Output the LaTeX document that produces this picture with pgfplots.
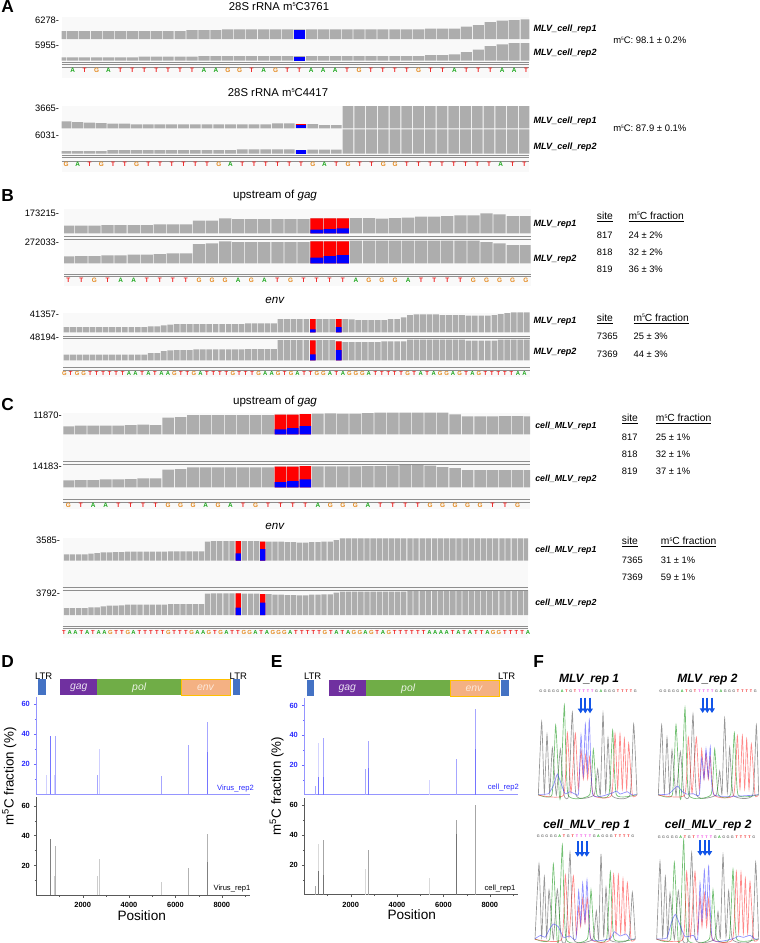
\documentclass[border=0pt]{standalone}
\usepackage{fontspec}
\setmainfont{Liberation Sans}
\usepackage{graphicx}
\usepackage{pgfplots}
\usepackage{pgfplotstable}
\pgfplotsset{compat=1.18}
\usetikzlibrary{arrows.meta}

\definecolor{trk}{HTML}{ADADAD}
\definecolor{trkbg}{HTML}{F9F9F9}
\definecolor{trkln}{HTML}{8E8E8E}
\definecolor{colA}{HTML}{1FA81F}
\definecolor{colT}{HTML}{F02020}
\definecolor{colG}{HTML}{E58A1F}
\definecolor{colg}{HTML}{777777}
\definecolor{colY}{HTML}{F040E0}
\definecolor{ltr}{HTML}{4472C4}
\definecolor{gag}{HTML}{7030A0}
\definecolor{pol}{HTML}{70AD47}
\definecolor{env}{HTML}{F4B183}
\definecolor{gold}{HTML}{FFC000}
\definecolor{axblue}{HTML}{2A2AFF}
\definecolor{arrowblue}{HTML}{1255E8}

\newcommand\fs[1]{\fontsize{#1}{#1}\selectfont}
\newcommand\Tbl[2]{\pgfplotstableread[row sep=\\,header=false]{#2}#1}

% coverage heights, in px of the track (track top = the number at its left)
\Tbl\tAa{8\\8\\8\\8\\8\\8\\8\\8\\8\\8\\8\\9\\9\\9\\9.7\\9.7\\9.7\\9.7\\9.7\\9.7\\9.7\\9.7\\9.7\\9.7\\9.7\\9.7\\9.7\\9.7\\9.7\\9.7\\9.7\\10.5\\10.5\\10.5\\12.3\\14\\17\\18.3\\19\\19.7\\}
\Tbl\tAb{3.3\\3.3\\3.3\\3.3\\3.3\\3.3\\3.3\\4\\4\\4\\4\\4\\4.7\\4.7\\4.7\\4.7\\4.7\\4.7\\4.7\\4.7\\4.7\\4.7\\4.7\\4.7\\4.7\\4.7\\4.7\\4.7\\4.7\\4.7\\4.7\\5.7\\5.7\\6.3\\8.5\\11\\14.7\\16.3\\17.7\\17.7\\}
\Tbl\tAc{7\\6.3\\5.7\\5.3\\4.7\\4.7\\4\\4\\4\\4\\4\\4\\4\\4\\4\\4\\4\\4\\5\\5\\4.3\\4.3\\3.3\\3.3\\22.3\\22.3\\22.3\\22.3\\22.3\\22.3\\22.3\\22.3\\22.3\\22.3\\22.3\\22.3\\22.3\\22.3\\22.3\\22.3\\}
\Tbl\tAd{2.7\\2.7\\2.7\\2.7\\3.7\\3.7\\3.7\\3.7\\3.7\\3.7\\3.7\\3.7\\3.7\\3.7\\3.7\\4.3\\4.3\\4.3\\4.3\\4.3\\3.3\\4\\4\\4\\24.3\\24.3\\24.3\\24.3\\24.3\\24.3\\24.3\\24.3\\24.3\\24.3\\24.3\\24.3\\24.3\\24.3\\24.3\\24.3\\}
\Tbl\tBa{7.7\\7.7\\7.7\\8.3\\8.3\\8.3\\8.3\\9\\9\\9\\12.7\\12.7\\15\\14.3\\14.3\\14.3\\14.3\\14.3\\14.3\\15\\15\\15\\15.3\\15.3\\14.7\\15.3\\15.7\\16.7\\16.7\\17.3\\18\\18\\20\\19\\17.3\\17.3\\}
\Tbl\tBb{7\\7.3\\7.3\\8\\8\\8.7\\8.7\\9.3\\10\\10\\19.3\\20\\22\\21.3\\21.3\\21.3\\21.3\\21.3\\21.3\\22\\22\\22\\22.7\\22.7\\22.7\\22.7\\22.7\\22.7\\22.7\\22.7\\22.7\\22.7\\21.3\\20\\18.3\\18.3\\}
\Tbl\tBc{5.3\\5.3\\5.3\\5.3\\5.3\\5.3\\5.3\\5.3\\5.3\\5.3\\5.3\\5.3\\5.3\\6\\6\\7\\7.7\\8.3\\8.3\\8.3\\8.3\\8.3\\8.3\\8.3\\8.3\\8.3\\8.3\\8.3\\9\\9\\9\\9\\9\\13.3\\13.3\\13.3\\13.3\\13.3\\13.3\\13.3\\13.3\\13.3\\13.3\\13.3\\13\\12.3\\12.3\\12.3\\12.3\\12.3\\13.3\\13.3\\15\\17.3\\18\\18\\18\\18\\17.3\\17.3\\17.3\\17.3\\16.7\\16.7\\16.7\\16.7\\17.3\\18.3\\19.3\\20\\20\\20\\}
\Tbl\tBd{5.7\\5.7\\5.7\\5.7\\5.7\\5.7\\5.7\\5.7\\5.7\\5.7\\5.7\\5.7\\5.7\\7.3\\7.3\\9.3\\10\\10.3\\10.3\\10.3\\11\\11\\11\\11\\11\\11\\11\\11\\11.3\\11.3\\11.3\\11.3\\11.3\\20.3\\20.3\\20.3\\20.3\\20.3\\20\\20.3\\20.3\\20.3\\19\\18.3\\18.3\\18.3\\18.3\\18.3\\18.3\\19\\19\\19\\19\\20.7\\20.7\\20.7\\20.7\\20.7\\20.7\\20.7\\20.7\\20.7\\19.7\\19.7\\19.7\\19.7\\19.7\\20.7\\20.7\\20.7\\20.7\\20.7\\}
\Tbl\tCa{8\\8.7\\8.7\\8.7\\8.7\\9.3\\9.7\\9.3\\16.7\\17.3\\19.3\\19.3\\19.3\\19.3\\19.3\\19.3\\19.3\\19.7\\19.7\\20.3\\20.7\\21\\20.7\\20.7\\21.3\\21.7\\21.7\\21.7\\21.7\\21.7\\21.7\\20\\18\\18\\18\\18.3\\18.3\\18\\}
\Tbl\tCb{7\\7.3\\7.3\\8\\8\\8.3\\9\\9\\17.7\\18.3\\20\\20\\20\\20\\20\\20\\20\\20.7\\20.7\\21.3\\21\\21\\21\\21\\21.3\\21.3\\21.7\\22.3\\22.3\\21.7\\20.3\\19.3\\17.3\\17.3\\17.3\\17.3\\17.3\\17.3\\}
\Tbl\tCc{6.3\\6.3\\6.3\\6.3\\7\\7.7\\8.3\\8.3\\8.7\\8.7\\9\\9\\9\\9\\9\\9\\9\\9.3\\9.3\\9.3\\9.3\\9.3\\9.3\\19\\19.7\\19.7\\19.7\\19.7\\19.7\\19.7\\19.7\\19.7\\19\\19\\19\\19\\18.7\\18.7\\18\\18\\18.7\\18.7\\19\\19\\20.7\\22.4\\22.4\\22.4\\22.4\\22.4\\22.4\\22.4\\22.4\\22.4\\22.4\\22.4\\22.4\\22.4\\22.4\\22.4\\22.4\\22.4\\22.4\\22.4\\22.4\\22.4\\22.4\\22.4\\22.4\\22.4\\22.4\\22.4\\22.4\\22.4\\22.4\\22.4\\}
\Tbl\tCd{7\\7\\7\\7\\7.7\\7.7\\8.7\\9.3\\9.3\\9.7\\10.3\\10.3\\10.3\\10.3\\10.3\\10.3\\10.3\\11\\11\\11\\11\\11\\11\\21.3\\21.7\\21.7\\21.7\\21.7\\21.7\\21.3\\21.3\\21.3\\21\\21\\20.3\\20.3\\20\\20\\19.7\\19.7\\20.3\\20.3\\20.7\\20.7\\22.3\\23.3\\23.3\\23.3\\23.3\\23.3\\23.3\\23.3\\23.3\\23.3\\23.3\\23.3\\24.7\\24.7\\24.7\\24.7\\24.7\\24.7\\24.7\\24.7\\24.7\\24.7\\24.7\\24.7\\24.7\\24.7\\24.7\\24.7\\24.7\\24.7\\24.7\\24.7\\}

% x1 x2 base height xmin xmax table red blue  (all in px of the 760x943 figure)
\newcommand\track[9]{%
  \pgfmathsetlengthmacro\trw{(#2-#1)*.75pt}%
  \pgfmathsetlengthmacro\trh{#4*.75pt}%
  \pgfmathsetmacro\trb{1-.8*(#6-#5)/(#2-#1)}%
  \begin{axis}[at={(#1*.75pt,-#3*.75pt)},anchor=south west,scale only axis,
    width=\trw,height=\trh,xmin=#5,xmax=#6,ymin=0,ymax=#4,hide axis,
    ybar,bar shift=0pt,bar width=\trb]
    \addplot[fill=trk,draw=none] table[x expr=\coordindex,y index=0] {#7};
    \addplot[fill=red,draw=none] coordinates {#8};
    \addplot[fill=blue,draw=none] coordinates {#9};
  \end{axis}}

\makeatletter
\newcommand\seq[5]{\def\sx{#1}\@tfor\ch:=#5\do{%
  \edef\cn{col\ch}\edef\letr{\if Y\ch T\else\if g\ch G\else\ch\fi\fi}%
  \node[font=\fs{#4}\bfseries,inner sep=0,text=\cn] at (\sx,#3) {\letr};%
  \pgfmathsetmacro\sx{\sx+#2}}}
\makeatother

\newcommand\hl[3]{\draw[trkln,line width=.6pt] (#1,#3)--(#2,#3);}
\newcommand\lbW[4]{\node[anchor=west,inner sep=0,font=\fs{#1}] at (#2,#3) {#4};}
\newcommand\lbE[4]{\node[anchor=east,inner sep=0,font=\fs{#1}] at (#2,#3) {#4};}
\newcommand\lbC[4]{\node[inner sep=0,font=\fs{#1}] at (#2,#3) {#4};}
\newcommand\mfive{m\textsuperscript{5}C}
\newcommand\msm{m\raisebox{.62ex}{\scalebox{.5}{5}}C}
\newcommand\rp[4]{\node[anchor=west,inner sep=0,font=\fs{#1}\bfseries\itshape] at (#2,#3) {#4};}

\pgfplotsset{
  stem/.style={scale only axis,width=160.4pt,xmin=0,xmax=9220,ymin=0,
    anchor=south west,axis x line*=bottom,axis y line*=left,tick align=outside,
    major tick length=1.8pt,minor tick length=1pt,
    ytick={20,40,60},minor ytick={10,30,50},
    /pgf/number format/assume math mode=true,/pgf/number format/1000 sep={},
    tick label style={font=\fs{5.6}\bfseries},
    yticklabel style={xshift=.5pt}},
  bluestem/.style={stem,xtick=\empty,axis line style={color=axblue!50},
    ytick style={color=axblue!70},yticklabel style={text=axblue}},
  graystem/.style={stem,xtick={2000,4000,6000,8000},minor xtick={1000,3000,5000,7000,9000},
    axis line style={color=black!65},tick style={color=black!65}},
  chrom/.style={scale only axis,anchor=south west,hide axis,ymin=0,ymax=300,clip=false,height=75pt},
  tr/.style={smooth,tension=.28,line width=.5pt,opacity=.55,no markers},
}

\begin{document}
\begin{tikzpicture}
\path[use as bounding box] (0,0) rectangle (570pt,-707.25pt);

% backgrounds
\begin{scope}[x=.75pt,y=-.75pt]
\fill[trkbg] (61.5,17) rectangle (529.3,77.5);
\fill[trkbg] (61.5,106) rectangle (529.3,171.7);
\fill[trkbg] (64,209.3) rectangle (530.7,286);
\fill[trkbg] (63.3,312.7) rectangle (530,376.7);
\fill[trkbg] (63.3,412.7) rectangle (530,509.3);
\fill[trkbg] (62.7,538.3) rectangle (528,638.3);
\end{scope}

% panels A-C
\track{61.5}{529.3}{39}{22}{.06}{39.27}{\tAa}{(20,9.5)}{(20,9.5)}
\track{61.5}{529.3}{60.7}{19.7}{.06}{39.27}{\tAb}{(20,4)}{(20,4)}
\track{61.5}{529.3}{128.3}{22.3}{-.38}{39.43}{\tAc}{(20,4.7)}{(20,3)}
\track{61.5}{529.3}{153.7}{24.3}{-.38}{39.43}{\tAd}{(20,3.3)}{(20,3.3)}
\track{64}{530.7}{233.3}{24}{-.33}{35.38}{\tBa}{(19,15)(20,15)(21,15)}{(19,3.7)(20,4.3)(21,5)}
\track{64}{530.7}{263.3}{23.3}{-.33}{35.38}{\tBb}{(19,22)(20,22)(21,22)}{(19,5.7)(20,7.3)(21,8.3)}
\track{63.3}{530}{332.3}{20}{-.5}{71.5}{\tBc}{(38,13.3)(42,13.3)}{(38,3)(42,5.3)}
\track{63.3}{530}{360.3}{21.6}{-.5}{71.5}{\tBd}{(38,20)(42,19)}{(38,6)(42,10.3)}
\track{63.3}{530}{434.3}{21.7}{-.4}{37}{\tCa}{(17,19.7)(18,19.7)(19,20.3)}{(17,5)(18,6.3)(19,8.3)}
\track{63.3}{530}{487.3}{22.6}{-.4}{37}{\tCb}{(17,20.7)(18,20.7)(19,21.3)}{(17,5.3)(18,6.3)(19,8)}
\track{62.7}{528}{560.7}{22.4}{-.61}{75.25}{\tCc}{(28,19.7)(32,19)}{(28,7.3)(32,11.7)}
\track{62.7}{528}{615}{24.7}{-.61}{75.25}{\tCd}{(28,21.7)(32,21)}{(28,7.3)(32,12.3)}

% panels D and E
\begin{axis}[bluestem,at={(27.2pt,-595.8pt)},height=73.3pt,ymax=64.8]
\addplot[ycomb,color=axblue!22,line width=.7pt,no markers] coordinates {(446,13)(780,13)(2733,30)};
\addplot[ycomb,color=axblue!42,line width=.5pt,no markers] coordinates {(820,39)(2647,13)(5393,12)(6558,33)(7369,48)};
\addplot[ycomb,color=axblue!65,line width=.5pt,no markers] coordinates {(600,39)(7365,28)};
\end{axis}
\begin{axis}[graystem,at={(27.2pt,-671.5pt)},height=73.5pt,ymax=65.6]
\addplot[ycomb,color=black!20,line width=.7pt,no markers] coordinates {(780,13)(2647,13)(2733,24)(5393,9)};
\addplot[ycomb,color=black!30,line width=.5pt,no markers] coordinates {(820,33)(6558,18)(7369,41)};
\addplot[ycomb,color=black!50,line width=.5pt,no markers] coordinates {(600,38)(7365,22)};
\end{axis}
\begin{axis}[bluestem,at={(228.2pt,-596pt)},height=72.8pt,ymax=65.4]
\addplot[ycomb,color=axblue!20,line width=.7pt,no markers] coordinates {(604,35)(5380,10)};
\addplot[ycomb,color=axblue!42,line width=.5pt,no markers] coordinates {(459,6)(805,38)(2620,17)(2750,36)(6545,24)(7367,58)};
\addplot[ycomb,color=axblue!65,line width=.5pt,no markers] coordinates {(604,12)(805,12)(2750,18)(7365,31)};
\end{axis}
\begin{axis}[graystem,at={(228.2pt,-671pt)},height=72.5pt,ymax=64.9]
\addplot[ycomb,color=black!15,line width=.7pt,no markers] coordinates {(604,34)(2620,17)(5380,11)};
\addplot[ycomb,color=black!35,line width=.5pt,no markers] coordinates {(459,6)(805,37)(2750,30)(6545,50)(7367,60)};
\addplot[ycomb,color=black!55,line width=.5pt,no markers] coordinates {(604,16)(805,13)(6545,41)};
\end{axis}

% panel F traces (x and height in 1/3 px)
\begin{axis}[chrom,at={(402.5pt,-596.8pt)},xmin=50,xmax=355,width=76.25pt]
\addplot[tr,color=black!75] coordinates {(55,2)(65,222)(73,8)(81,184)(89,8)(97,144)(109,2)(121,140)(132,2)(146,2)(157,250)(168,2)(222,2)(233,80)(241,2)(249,247)(257,10)(264,174)(275,2)(330,2)(341,215)(351,2)};
\addplot[tr,color=green!55!black] coordinates {(55,3)(96,3)(107,212)(118,3)(122,3)(133,272)(144,3)(209,3)(220,139)(231,3)(267,3)(278,197)(289,3)(350,3)};
\addplot[tr,color=red!85] coordinates {(55,2)(131,2)(142,189)(153,8)(166,187)(175,20)(183,137)(190,50)(197,122)(203,50)(209,117)(220,2)(275,2)(285,187)(293,20)(300,185)(307,20)(313,172)(320,20)(326,157)(337,2)(350,2)};
\addplot[tr,color=blue!80] coordinates {(55,4)(85,6)(100,30)(112,65)(122,40)(135,6)(150,12)(170,3)(176,10)(183,182)(190,60)(196,215)(202,70)(208,229)(218,4)(270,6)(290,14)(300,5)(322,12)(335,3)(350,3)};
\end{axis}
\begin{axis}[chrom,at={(492.5pt,-596.8pt)},xmin=410,xmax=720,width=77.5pt]
\addplot[tr,color=black!75] coordinates {(415,2)(425,212)(433,8)(441,175)(449,8)(456,137)(468,2)(481,132)(492,2)(508,2)(519,245)(530,2)(588,2)(599,74)(606,5)(614,232)(622,10)(629,145)(640,2)(698,2)(709,212)(716,2)};
\addplot[tr,color=green!55!black] coordinates {(415,3)(457,3)(468,213)(479,3)(484,3)(495,264)(506,3)(573,3)(584,140)(595,3)(632,3)(643,189)(654,3)(715,3)};
\addplot[tr,color=red!85] coordinates {(415,2)(494,2)(505,175)(516,8)(529,175)(538,20)(545,139)(552,50)(558,127)(565,50)(571,117)(582,2)(641,2)(652,180)(660,20)(667,180)(674,20)(680,170)(687,20)(694,155)(705,2)(715,2)};
\addplot[tr,color=blue!80] coordinates {(415,3)(445,5)(460,18)(473,29)(485,14)(500,5)(520,6)(538,3)(545,114)(552,50)(558,141)(565,55)(571,147)(582,3)(715,3)};
\end{axis}
\begin{axis}[chrom,at={(400pt,-705pt)},xmin=40,xmax=350,width=77.5pt]
\addplot[tr,color=black!75] coordinates {(45,2)(57,228)(65,8)(73,190)(80,8)(87,150)(100,2)(112,152)(124,2)(138,2)(150,263)(161,2)(218,2)(229,87)(236,2)(243,258)(251,10)(258,158)(269,2)(326,2)(337,143)(346,2)};
\addplot[tr,color=green!55!black] coordinates {(45,3)(89,3)(100,228)(111,3)(116,3)(127,285)(138,3)(202,3)(213,150)(224,3)(260,3)(271,205)(282,3)(345,3)};
\addplot[tr,color=red!85] coordinates {(45,2)(125,2)(136,195)(147,8)(160,192)(169,15)(176,100)(182,40)(188,125)(195,50)(202,125)(213,2)(270,2)(281,197)(288,20)(295,195)(302,20)(309,183)(315,20)(322,172)(333,2)(345,2)};
\addplot[tr,color=blue!80] coordinates {(45,4)(62,14)(75,8)(90,35)(100,48)(115,40)(130,8)(150,12)(168,3)(176,148)(182,50)(188,170)(195,55)(201,180)(212,4)(270,4)(283,25)(300,12)(318,18)(330,3)(345,3)};
\end{axis}
\begin{axis}[chrom,at={(491.25pt,-705pt)},xmin=405,xmax=720,width=78.75pt]
\addplot[tr,color=black!75] coordinates {(410,2)(420,235)(428,8)(436,190)(443,8)(450,140)(463,2)(475,148)(487,2)(504,2)(515,262)(526,2)(583,2)(594,85)(601,5)(609,255)(618,10)(626,148)(637,2)(696,2)(707,233)(716,2)};
\addplot[tr,color=green!55!black] coordinates {(410,3)(452,3)(463,233)(474,3)(480,3)(491,300)(502,3)(568,3)(579,150)(590,3)(628,3)(639,212)(650,3)(715,3)};
\addplot[tr,color=red!85] coordinates {(410,2)(489,2)(500,205)(511,8)(525,205)(533,20)(540,130)(546,40)(553,140)(560,40)(566,125)(577,2)(638,2)(649,205)(656,20)(663,202)(670,20)(676,185)(683,20)(690,175)(701,2)(715,2)};
\addplot[tr,color=blue!80] coordinates {(410,3)(440,6)(455,55)(466,77)(478,50)(495,10)(520,14)(533,3)(540,172)(546,60)(553,210)(560,70)(566,222)(577,3)(640,4)(655,12)(670,8)(690,14)(705,3)(715,3)};
\end{axis}

\begin{scope}[x=.75pt,y=-.75pt]
% panel letters
\lbW{13}{1}{7}{\bfseries A}
\lbW{13}{1}{196}{\bfseries B}
\lbW{13}{1}{404.7}{\bfseries C}
\lbW{13}{1}{661.7}{\bfseries D}
\lbW{13}{270.7}{661.7}{\bfseries E}
\lbW{13}{533}{661.7}{\bfseries F}

% panel A
\lbC{8.5}{279}{6.5}{28S rRNA \msm3761}
\lbC{8.5}{278}{92.5}{28S rRNA \msm4417}
\lbE{7}{59.3}{20.7}{6278-}
\lbE{7}{59.3}{45}{5955-}
\lbE{7}{59.3}{108.7}{3665-}
\lbE{7}{59.3}{135.7}{6031-}
\hl{61.5}{529.3}{62}\hl{61.5}{529.3}{64}\hl{61.5}{529.3}{67.7}
\hl{61.5}{529.3}{155}\hl{61.5}{529.3}{157}\hl{61.5}{529.3}{161.5}
\seq{72.7}{11.93}{70.7}{4.8}{ATGATTTTTTTAAGGTAGTTAAATGTTTTGTTATTTAAT}
\seq{66}{11.75}{164.7}{4.8}{GATGTTGTTTTTTGATTTTTTGATGTTGGTTTTTTTTATT}
\rp{6.8}{533.3}{29.3}{MLV\_cell\_rep1}
\rp{6.8}{533.3}{53.3}{MLV\_cell\_rep2}
\rp{6.8}{533.3}{120.7}{MLV\_cell\_rep1}
\rp{6.8}{533.3}{147.3}{MLV\_cell\_rep2}
\lbW{7.1}{613}{40}{\msm: 98.1 ± 0.2\%}
\lbW{7.1}{613}{128}{\msm: 87.9 ± 0.1\%}

% panel B
\lbC{8.7}{275}{195.3}{upstream of \textit{gag}}
\lbC{8.7}{275}{300.7}{\textit{env}}
\lbE{7}{59.3}{213}{173215-}
\lbE{7}{59.3}{242.3}{272033-}
\lbE{7}{59.3}{314}{41357-}
\lbE{7}{59.3}{337.7}{48194-}
\hl{64}{530.7}{236}\hl{64}{530.7}{239.3}\hl{64}{530.7}{274.3}\hl{64}{530.7}{276.7}
\hl{63.3}{530}{336}\hl{63.3}{530}{338}\hl{63.3}{530}{367.3}\hl{63.3}{530}{370.7}
\seq{68.3}{13.07}{280.3}{4.8}{TTGTAATTTTGGGAGATGTTTTAGGGATTTTGGGGG}
\seq{64.3}{6.48}{373.3}{4.4}{GTGGTTTTTTAATATAAGTTGATTTTGTTTGAAGTGATTGGATAGGGATTTTTGTATAGGAGTAGTTTTTAA}
\rp{6.8}{533.3}{224}{MLV\_rep1}
\rp{6.8}{533.3}{259}{MLV\_rep2}
\rp{6.8}{533.3}{321}{MLV\_rep1}
\rp{6.8}{533.3}{352.3}{MLV\_rep2}
\lbW{7.7}{596.7}{217}{\underline{site}}
\lbW{7.7}{628.3}{217}{\underline{\msm{} fraction}}
\lbW{7}{596.7}{235}{817}\lbW{7}{628.3}{235}{24 ± 2\%}
\lbW{7}{596.7}{252.3}{818}\lbW{7}{628.3}{252.3}{32 ± 2\%}
\lbW{7}{596.7}{269.7}{819}\lbW{7}{628.3}{269.7}{36 ± 3\%}
\lbW{7.7}{596.7}{318.7}{\underline{site}}
\lbW{7.7}{633.3}{318.7}{\underline{\msm{} fraction}}
\lbW{7}{596.7}{336.3}{7365}\lbW{7}{633.3}{336.3}{25 ± 3\%}
\lbW{7}{596.7}{354}{7369}\lbW{7}{633.3}{354}{44 ± 3\%}

% panel C
\lbC{8.7}{275}{401.3}{upstream of \textit{gag}}
\lbC{8.7}{275}{526.7}{\textit{env}}
\lbE{7}{62}{415.3}{11870-}
\lbE{7}{62}{466.7}{14183-}
\lbE{7}{60.3}{540.3}{3585-}
\lbE{7}{60.3}{593.3}{3792-}
\hl{63.3}{530}{461.7}\hl{63.3}{530}{464}\hl{63.3}{530}{499.3}\hl{63.3}{530}{502}
\hl{62.7}{528}{587.7}\hl{62.7}{528}{590}\hl{62.7}{528}{626.7}\hl{62.7}{528}{628.7}
\seq{68.3}{12.48}{505.3}{4.8}{GTAATTTTGGGAGATGTTTTAGGGATTTTGGGGGTTG}
\seq{64}{5.8}{632.3}{4.4}{TAATATAAGTTGATTTTTGTTTGAAGTGATTGGATAGGGATTTTTGTATAGGAGTAGTTTTTTAAAATATATTAGGTTTTA}
\rp{6.6}{535}{426.7}{cell\_MLV\_rep1}
\rp{6.6}{535}{479.3}{cell\_MLV\_rep2}
\rp{6.6}{535}{550.7}{cell\_MLV\_rep1}
\rp{6.6}{535}{603.7}{cell\_MLV\_rep2}
\lbW{7.7}{621.7}{419.3}{\underline{site}}
\lbW{7.7}{655.7}{419.3}{\underline{\msm{} fraction}}
\lbW{7}{621.7}{437}{817}\lbW{7}{655.7}{437}{25 ± 1\%}
\lbW{7}{621.7}{454.3}{818}\lbW{7}{655.7}{454.3}{32 ± 1\%}
\lbW{7}{621.7}{471.7}{819}\lbW{7}{655.7}{471.7}{37 ± 1\%}
\lbW{7.7}{621.7}{542.3}{\underline{site}}
\lbW{7.7}{660.7}{542.3}{\underline{\msm{} fraction}}
\lbW{7}{621.7}{560.3}{7365}\lbW{7}{660.7}{560.3}{31 ± 1\%}
\lbW{7}{621.7}{577.7}{7369}\lbW{7}{660.7}{577.7}{59 ± 1\%}

% genome maps
\fill[ltr] (37.7,679.3) rectangle (46,695.3);
\fill[gag] (60.3,679.3) rectangle (97,695.3);
\fill[pol] (97,679.3) rectangle (181.3,695.3);
\filldraw[fill=env,draw=gold,line width=.5pt] (181.3,679.3) rectangle (230.3,695.3);
\fill[ltr] (232.7,679.3) rectangle (240,695.3);
\lbC{7.1}{43.7}{676}{LTR}\lbC{7.1}{238.3}{676}{LTR}
\lbC{7.8}{78.7}{688}{\color{white!85!gag}\textit{gag}}
\lbC{7.8}{139.3}{688}{\color{white!85!pol}\textit{pol}}
\lbC{7.8}{205.7}{688}{\color{white!70!env}\textit{env}}
\fill[ltr] (306.7,680) rectangle (314.3,696);
\fill[gag] (329,680) rectangle (366,696);
\fill[pol] (366,680) rectangle (450,696);
\filldraw[fill=env,draw=gold,line width=.5pt] (450,680) rectangle (499,696);
\fill[ltr] (501.3,680) rectangle (509,696);
\lbC{7.1}{312.7}{676.7}{LTR}\lbC{7.1}{506.7}{676.7}{LTR}
\lbC{7.8}{347.3}{688.7}{\color{white!85!gag}\textit{gag}}
\lbC{7.8}{408.3}{688.7}{\color{white!85!pol}\textit{pol}}
\lbC{7.8}{474.3}{688.7}{\color{white!70!env}\textit{env}}

% axis words of D and E
\node[rotate=90,inner sep=0,font=\fs{10}] at (9.3,776.7) {\mfive{} fraction (\%)};
\node[rotate=90,inner sep=0,font=\fs{10}] at (276.7,786) {\mfive{} fraction (\%)};
\lbC{10.2}{141.7}{916}{Position}
\lbC{10.2}{411.7}{914.7}{Position}
\lbE{5.7}{254}{788.3}{\color{axblue}Virus\_rep2}
\lbE{5.7}{250.5}{888.7}{Virus\_rep1}
\lbE{5.7}{519}{788}{\color{axblue}cell\_rep2}
\lbE{5.7}{515.7}{888.7}{cell\_rep1}

% panel F words and arrows
\rp{9}{558.8}{679.3}{MLV\_rep 1}
\rp{9}{677.2}{679.3}{MLV\_rep 2}
\rp{9}{543}{825}{cell\_MLV\_rep 1}
\rp{9}{664.6}{825}{cell\_MLV\_rep 2}
\seq{540.7}{4.3}{691.7}{2.8}{gggggATgTYYYYgAgggTTTTg}
\seq{660.7}{4.3}{691.7}{2.8}{gggggATgTYYYYgAgggTTTTg}
\seq{538.3}{4.3}{836}{2.8}{gggggATgTYYYYgAgggTTTTg}
\seq{659.3}{4.3}{837}{2.8}{gggggATgTYYYYgAgggTTTTg}
\foreach \x in {580.7,585.3,590}
  \draw[arrowblue,line width=1.5pt,-{Triangle[length=3.5pt,width=4.2pt]}] (\x,697.7)--(\x,713.3);
\foreach \x in {702.7,707.3,712}
  \draw[arrowblue,line width=1.5pt,-{Triangle[length=3.5pt,width=4.2pt]}] (\x,697.7)--(\x,713);
\foreach \x in {577.7,582,586.7}
  \draw[arrowblue,line width=1.5pt,-{Triangle[length=3.5pt,width=4.2pt]}] (\x,841.3)--(\x,856.7);
\foreach \x in {700.3,705,709.3}
  \draw[arrowblue,line width=1.5pt,-{Triangle[length=3.5pt,width=4.2pt]}] (\x,840)--(\x,855.7);
\end{scope}
\end{tikzpicture}
\end{document}
